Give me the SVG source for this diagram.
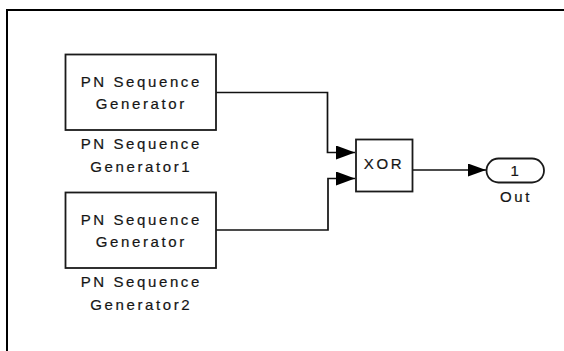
<svg xmlns="http://www.w3.org/2000/svg" width="564" height="351" viewBox="0 0 564 351">
  <style>
    .blk { fill: #ffffff; stroke: #1a1a1a; stroke-width: 1.8; }
    .wire { fill: none; stroke: #111111; stroke-width: 1.7; }
    .lbl { font-family: "Liberation Sans", Arial, sans-serif; font-size: 15px; letter-spacing: 2.6px; fill: #151515; stroke: #151515; stroke-width: 0.2; text-anchor: middle; }
  </style>
  <defs>
    <marker id="arrowIn" viewBox="0 0 19 14" refX="19" refY="7" markerWidth="19" markerHeight="14" markerUnits="userSpaceOnUse" orient="auto">
      <path d="M0,0 L19,7 L0,14 Z" fill="#000000"/>
    </marker>
    <marker id="arrowOut" viewBox="0 0 18 13" refX="18" refY="6.5" markerWidth="18" markerHeight="13" markerUnits="userSpaceOnUse" orient="auto">
      <path d="M0,0 L18,6.5 L0,13 Z" fill="#000000"/>
    </marker>
  </defs>

  <rect x="0" y="0" width="564" height="351" fill="#ffffff"/>
  <!-- model canvas frame -->
  <rect x="7" y="10" width="620" height="400" fill="none" stroke="#000000" stroke-width="2"/>

  <g id="connectors">
    <path class="wire" d="M216,92.5 H327.5 V152.5 H355" marker-end="url(#arrowIn)"/>
    <path class="wire" d="M216,230 H328 V178.5 H355" marker-end="url(#arrowIn)"/>
    <path class="wire" d="M412.5,170 H486" marker-end="url(#arrowOut)"/>
  </g>

  <g id="pn-generator-1">
    <rect class="blk" x="65.5" y="54.5" width="150.5" height="75.5"/>
    <text class="lbl" x="141.3" y="86.5">PN Sequence</text>
    <text class="lbl" x="141.3" y="109.3">Generator</text>
    <text class="lbl" x="141.3" y="148.5">PN Sequence</text>
    <text class="lbl" x="141.3" y="171.5">Generator1</text>
  </g>

  <g id="pn-generator-2">
    <rect class="blk" x="65.5" y="192.5" width="150.5" height="75.5"/>
    <text class="lbl" x="141.3" y="224.5">PN Sequence</text>
    <text class="lbl" x="141.3" y="247.3">Generator</text>
    <text class="lbl" x="141.3" y="286.5">PN Sequence</text>
    <text class="lbl" x="141.3" y="309.5">Generator2</text>
  </g>

  <g id="xor">
    <rect class="blk" x="356" y="139.5" width="56.5" height="52"/>
    <text class="lbl" x="384" y="169.3">XOR</text>
  </g>

  <g id="out-port">
    <rect class="blk" x="486.5" y="158.5" width="57.5" height="24" rx="12" ry="12"/>
    <text class="lbl" x="516" y="175.5">1</text>
    <text class="lbl" x="516" y="201.7">Out</text>
  </g>
</svg>
